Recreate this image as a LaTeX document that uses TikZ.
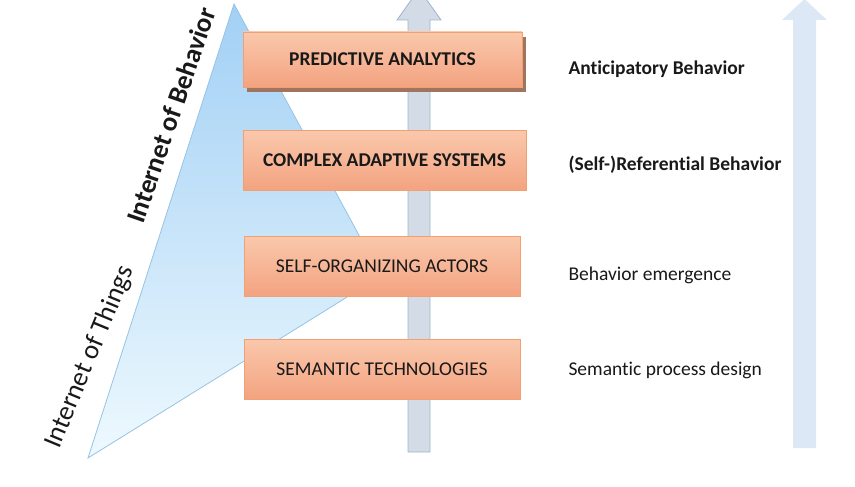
\documentclass[tikz,border=0pt]{standalone}
\usepackage{fontspec}
\setmainfont[Ligatures=NoCommon]{Carlito}
\usetikzlibrary{shadows}

\definecolor{boxtop}{RGB}{250,200,172}
\definecolor{boxbot}{RGB}{243,163,128}
\definecolor{boxline}{RGB}{240,160,115}
\definecolor{bevel}{RGB}{160,116,94}
\definecolor{pyrtop}{RGB}{162,208,245}
\definecolor{pyrbot}{RGB}{238,249,254}
\definecolor{pyrline}{RGB}{150,195,228}
\definecolor{shaftfill}{RGB}{210,219,230}
\definecolor{shaftline}{RGB}{160,180,203}
\definecolor{scalefill}{RGB}{220,232,245}

\begin{document}
\begin{tikzpicture}[x=1pt, y=-1pt, every node/.style={font=\fontsize{19.5}{22}\selectfont, text=black!90},
	layerbox/.style={draw=boxline, line width=0.8pt, top color=boxtop, bottom color=boxbot, minimum height=60pt, inner sep=0pt},
	sidelabel/.style={anchor=base west},
	tilted/.style={font=\fontsize{27}{30}\selectfont}]
	\useasboundingbox (0,0) rectangle (855,487);
	\clip (0,0) rectangle (855,487);
	% pyramid
	\draw[pyrline, line width=0.8pt, top color=pyrtop, bottom color=pyrbot] (234,4) -- (88,458) -- (381,276) -- cycle;
	\node[tilted, font=\bfseries\fontsize{27}{30}\selectfont, rotate=71] (iob) at (171,115) {Internet of Behavior};
	\node[tilted, rotate=67.5] (iot) at (90,357) {Internet of Things};
	% middle arrow
	\draw[shaftline, line width=0.8pt, fill=shaftfill] (408,452) -- (408,20) -- (397,20) -- (419,-11) -- (441,20) -- (430,20) -- (430,452) -- cycle;
	% layers
	\node[layerbox, minimum width=279pt, minimum height=55pt, font=\bfseries\fontsize{19.5}{22}\selectfont,
		general shadow={fill=bevel, shadow xshift=4pt, shadow yshift=-5pt}] (pa) at (382.5,59.5) {PREDICTIVE ANALYTICS};
	\node[layerbox, minimum width=283pt, font=\bfseries\fontsize{19.5}{22}\selectfont] (cas) at (384.5,160) {COMPLEX ADAPTIVE SYSTEMS};
	\node[layerbox, minimum width=276pt] (soa) at (382,266) {SELF-ORGANIZING ACTORS};
	\node[layerbox, minimum width=276pt] (st) at (382,369) {SEMANTIC TECHNOLOGIES};
	% right scale
	\fill[scalefill] (793,448) -- (793,20) -- (782,20) -- (804.5,-1) -- (827,20) -- (816,20) -- (816,448) -- cycle;
	\node[sidelabel, font=\bfseries\fontsize{19.5}{22}\selectfont] (ab) at (565,75) {Anticipatory Behavior};
	\node[sidelabel, font=\bfseries\fontsize{19.5}{22}\selectfont] (rb) at (565,170) {(Self-)Referential Behavior};
	\node[sidelabel] (be) at (565,280) {Behavior emergence};
	\node[sidelabel] (sd) at (565,375) {Semantic process design};
\end{tikzpicture}
\end{document}
